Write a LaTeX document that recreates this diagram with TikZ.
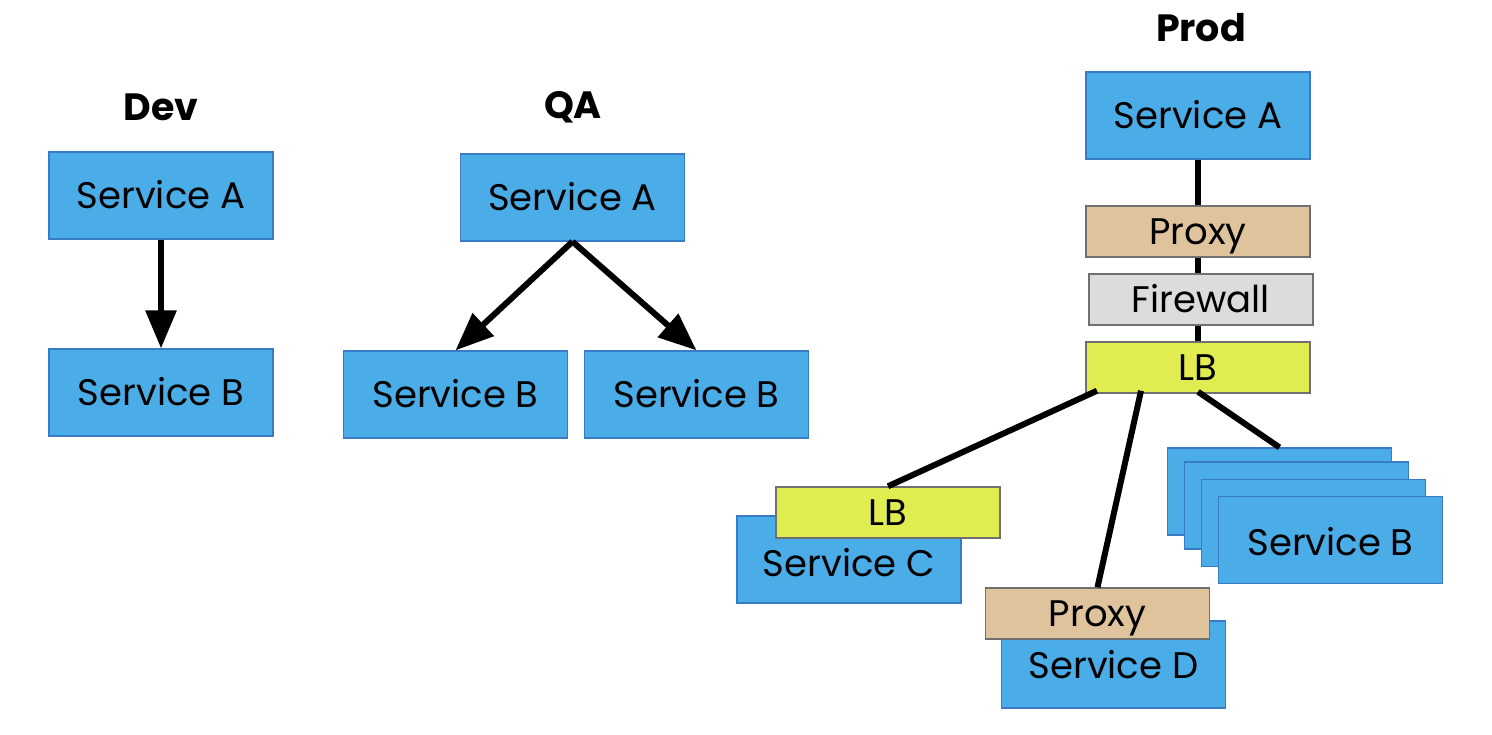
\documentclass[tikz,border=0pt]{standalone}
\usepackage{fontspec}
\setmainfont{Poppins}
\usetikzlibrary{arrows.meta}
\definecolor{svcblue}{HTML}{4BADE8}
\definecolor{svcedge}{HTML}{3A7BC8}
\definecolor{proxytan}{HTML}{DFC39C}
\definecolor{fwgray}{HTML}{DCDCDC}
\definecolor{lbyellow}{HTML}{E0EC50}
\definecolor{boxedge}{HTML}{707070}
\tikzset{
  boxtext/.style={font=\fontsize{37}{42}\selectfont, text height=26pt, text depth=0pt},
  svc/.style={draw=svcedge, line width=1.2pt, fill=svcblue, minimum width=224pt, minimum height=87pt, inner sep=0pt, boxtext},
  thinbox/.style={draw=boxedge, line width=1.5pt, minimum width=224pt, minimum height=51pt, inner sep=0pt, boxtext},
  proxybox/.style={thinbox, fill=proxytan},
  fwbox/.style={thinbox, fill=fwgray},
  lbbox/.style={thinbox, fill=lbyellow},
  title/.style={font=\fontsize{38}{42}\selectfont\bfseries},
  link/.style={line width=6pt, black},
  arrowlink/.style={link, -{Triangle[length=38pt, width=30pt]}}
}
\begin{document}
\begin{tikzpicture}[x=1pt, y=-1pt]
\useasboundingbox (0,0) rectangle (1492,734);
% Dev
\node[title] (devT) at (161,107) {Dev};
\node[svc] (devA) at (161,195.5) {Service A};
\node[svc] (devB) at (161,392.5) {Service B};
\draw[arrowlink] (devA.south) -- (devB.north);
% QA
\node[title] (qaT) at (573,107) {QA};
\node[svc] (qaA) at (572.5,197.5) {Service A};
\node[svc] (qaBl) at (455.5,394.5) {Service B};
\node[svc] (qaBr) at (696.5,394.5) {Service B};
\draw[arrowlink] (qaA.south) -- (qaBl.north);
\draw[arrowlink] (qaA.south) -- (qaBr.north);
% Prod
\node[title] (prodT) at (1201,28) {Prod};
\node[svc] (pA) at (1198,115.5) {Service A};
\node[proxybox] (pProxy) at (1198,231.5) {Proxy};
\node[fwbox] (pFw) at (1201,299.5) {Firewall};
\node[lbbox] (pLb) at (1198,367.5) {LB};
\draw[link] (pA.south) -- (pProxy.north);
\draw[link] (pProxy.south) -- (pProxy.south |- pFw.north);
\draw[link] (pLb.north |- pFw.south) -- (pLb.north);
% Service C with LB
\node[svc] (pC) at (849,559.5) {\raisebox{-4pt}{Service C}};
\node[lbbox] (pCLb) at (888,512.5) {LB};
% Service D with Proxy
\node[svc] (pD) at (1113.5,664.5) {\raisebox{-1pt}{Service D}};
\node[proxybox] (pDProxy) at (1097.5,613.5) {Proxy};
% Service B stack
\node[svc] (pB1) at (1279.5,491.5) {};
\node[svc] (pB2) at (1296.5,505.5) {};
\node[svc] (pB3) at (1313.5,523) {};
\node[svc] (pB4) at (1330.5,540) {\raisebox{-2pt}{Service B}};
% links from LB
\draw[link] ([xshift=-101pt,yshift=3pt]pLb.south) -- (pCLb.north);
\draw[link] ([xshift=-57pt,yshift=3pt]pLb.south) -- (pDProxy.north);
\draw[link] ([yshift=2pt]pLb.south) -- (pB1.north);
\end{tikzpicture}
\end{document}
